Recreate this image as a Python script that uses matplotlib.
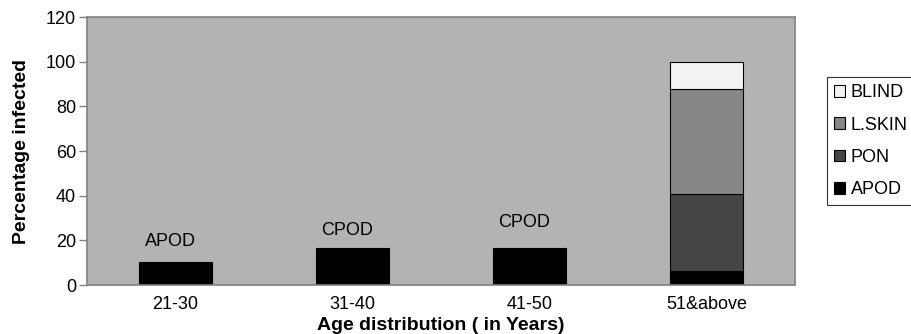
import matplotlib.pyplot as plt
import numpy as np

plt.rcParams['font.family'] = ['Liberation Sans', 'DejaVu Sans']

categories = ['21-30', '31-40', '41-50', '51&above']
apod = [10.3, 16.7, 16.7, 6.3]
pon = [0, 0, 0, 34.4]
lskin = [0, 0, 0, 47.0]
blind = [0, 0, 0, 12.0]
bar_labels = ['APOD', 'CPOD', 'CPOD']
bar_label_y = [19.3, 24.2, 27.8]

fs = 13

fig = plt.figure(figsize=(9.12, 3.34), dpi=100)
ax = fig.add_axes([87 / 912, 49 / 334, 708 / 912, 268 / 334])
ax.set_facecolor('#b3b3b3')

x = np.arange(len(categories))
w = 0.41

def stacked(ax, vals, bottom, color, label):
    vals = np.array(vals, dtype=float)
    keep = vals > 0
    return ax.bar(x[keep], vals[keep], w, bottom=np.array(bottom)[keep],
                  color=color, edgecolor='black', linewidth=0.8, label=label)

b0 = np.zeros(len(x))
h_apod = stacked(ax, apod, b0, 'black', 'APOD')
b1 = b0 + np.array(apod)
h_pon = stacked(ax, pon, b1, '#454545', 'PON')
b2 = b1 + np.array(pon)
h_lskin = stacked(ax, lskin, b2, '#878787', 'L.SKIN')
b3 = b2 + np.array(lskin)
h_blind = stacked(ax, blind, b3, '#f2f2f2', 'BLIND')

for i, (lab, yy) in enumerate(zip(bar_labels, bar_label_y)):
    ax.text(x[i] - 0.03, yy, lab, ha='center', va='center', fontsize=fs)

ax.set_xlim(-0.5, 3.5)
ax.set_ylim(0, 120)
ax.set_yticks(range(0, 121, 20))
ax.set_xticks(x)
ax.set_xticklabels(categories)
ax.tick_params(axis='x', length=0, labelsize=fs, pad=8)
ax.tick_params(axis='y', length=6, width=1, color='#808080', labelsize=fs, pad=2)
for s in ax.spines.values():
    s.set_color('#808080')
    s.set_linewidth(1.2)

ax.set_ylabel('Percentage infected', fontweight='bold', fontsize=14, labelpad=11)
ax.set_xlabel('Age distribution ( in Years)', fontweight='bold', fontsize=14, labelpad=3)

leg = fig.legend(handles=[h_blind, h_lskin, h_pon, h_apod],
                 labels=['BLIND', 'L.SKIN', 'PON', 'APOD'],
                 loc='upper left', bbox_to_anchor=(827 / 912, 1 - 77 / 334),
                 frameon=True, fancybox=False, edgecolor='black',
                 handlelength=0.6, handleheight=0.6, handletextpad=0.3,
                 labelspacing=0.85, borderpad=0.4, fontsize=fs, borderaxespad=0)
leg.get_frame().set_linewidth(0.8)

fig.savefig('out.png', dpi=100)
